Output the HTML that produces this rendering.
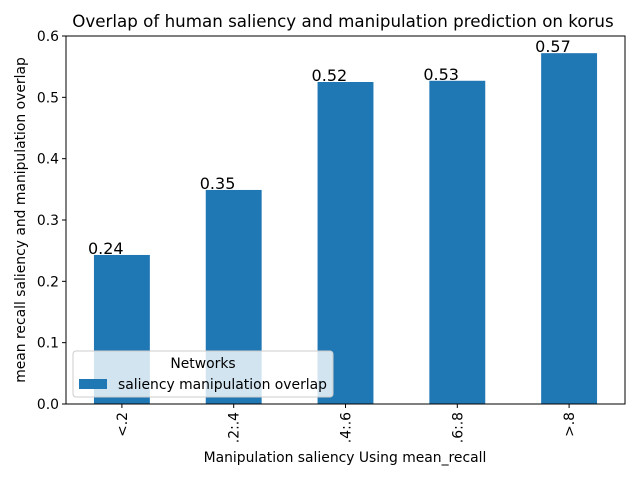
<!DOCTYPE html>
<html><head><meta charset="utf-8"><style>
body{margin:0;background:#fff;}
svg{display:block;font-family:"DejaVu Sans","Liberation Sans",sans-serif;}
</style></head><body>
<svg id="chart" width="640" height="480">
<rect x="0" y="0" width="640" height="480" fill="#fff"/>
<text x="343" y="27" font-size="16.7" text-anchor="middle">Overlap of human saliency and manipulation prediction on korus</text>
<g id="bars"></g>
<g id="yticks"></g>
<g id="xticks"></g>
<rect x="66" y="36" width="559" height="368" fill="none" stroke="#000" stroke-width="1"/>
<text transform="translate(25,220) rotate(-90)" font-size="13.9" text-anchor="middle">mean recall saliency and manipulation overlap</text>
<text x="345" y="462" font-size="13.9" text-anchor="middle">Manipulation saliency Using mean_recall</text>
<g>
<rect x="73" y="351" width="260" height="46" rx="3" fill="#fff" fill-opacity="0.8" stroke="#ccc"/>
<text x="203" y="368" font-size="13.9" text-anchor="middle">Networks</text>
<rect x="79" y="379" width="28" height="10" fill="#1f77b4"/>
<text x="118" y="389" font-size="13.9">saliency manipulation overlap</text>
</g>
</svg>
<script>
const categories=["<.2",".2:.4",".4:.6",".6:.8",">.8"];
const values=[0.243,0.349,0.525,0.527,0.572];
const valueLabels=["0.24","0.35","0.52","0.53","0.57"];
const yTicks=[0,0.1,0.2,0.3,0.4,0.5,0.6];
const NS="http://www.w3.org/2000/svg";
const x0=66,x1=625,y0=404,y1=36,ymax=0.6;
const step=(x1-x0)/categories.length,bw=step*0.5;
function yScale(v){return y0-(v/ymax)*(y0-y1);}
function xCenter(i){return x0+step*(i+0.5);}
function mk(tag,attrs,parent){const e=document.createElementNS(NS,tag);for(const k in attrs)e.setAttribute(k,attrs[k]);parent.appendChild(e);return e;}
const gb=document.getElementById('bars'),gy=document.getElementById('yticks'),gx=document.getElementById('xticks');
values.forEach((v,i)=>{
 const r=mk('rect',{x:xCenter(i)-bw/2,y:yScale(v),width:bw,height:y0-yScale(v),fill:'#1f77b4'},gb);
 
 
 const t=mk('text',{x:xCenter(i)-bw/2-6,y:yScale(v)-1,'font-size':'16'},gb);
 t.textContent=valueLabels[i];
 
 
 const tk=mk('line',{x1:xCenter(i),x2:xCenter(i),y1:y0,y2:y0+4,stroke:'#000'},gx);
 
 
 const xl=mk('text',{transform:`translate(${xCenter(i)+5},${y0+8}) rotate(-90)`,'font-size':'13.9','text-anchor':'end'},gx);
 xl.textContent=categories[i];
 
 
});
yTicks.forEach(v=>{
 const y=yScale(v);
 const l=mk('line',{x1:x0-4,x2:x0,y1:y,y2:y,stroke:'#000'},gy);
 
 
 const t=mk('text',{x:x0-7,y:y+5,'font-size':'13.9','text-anchor':'end'},gy);
 t.textContent=v.toFixed(1);
 
 
});
</script>
</body></html>
